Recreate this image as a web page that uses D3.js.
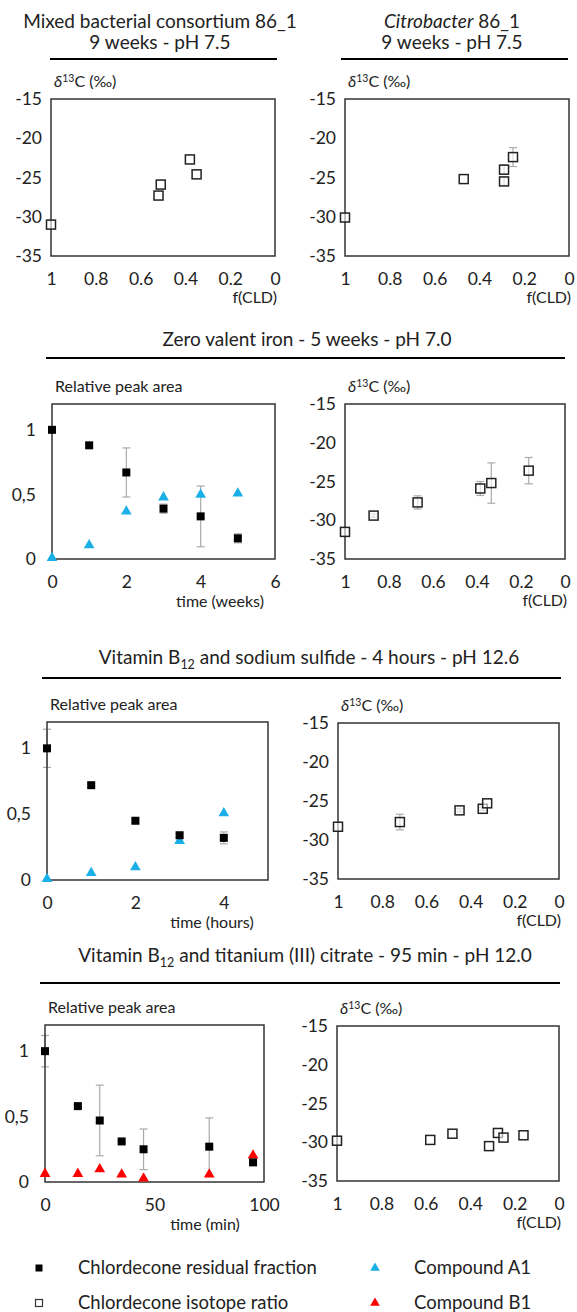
<!DOCTYPE html>
<html>
<head>
<meta charset="utf-8">
<script src="https://cdn.jsdelivr.net/npm/d3@7"></script>
<style>
  body { margin: 0; background: #fff; }
  text { font-family: Lato, "Open Sans", sans-serif; fill: #222; }
</style>
</head>
<body>
<svg id="fig" width="577" height="1312"></svg>
<script>
// ---- data ----
// mixed bacterial consortium 86_1 (isotope)
var mixF = [1, 0.52, 0.51, 0.38, 0.35];
var mixD = [-31.0, -27.3, -25.9, -22.7, -24.6];
var mixErr = [0, 0, 0, 0, 0];

// Citrobacter 86_1 (isotope)
var citF = [1, 0.47, 0.29, 0.29, 0.25];
var citD = [-30.1, -25.2, -24.0, -25.5, -22.4];
var citErr = [0, 0, 0.6, 0.5, 1.2];

// zero valent iron
var zviTime = [0, 1, 2, 3, 4, 5];
var zviCld = [1.0, 0.88, 0.67, 0.39, 0.33, 0.16];
var zviCldErr = [0.02, 0.02, 0.19, 0.035, 0.235, 0.035];
var zviA1 = [0, 0.10, 0.36, 0.47, 0.49, 0.50];
var zviF = [1, 0.87, 0.67, 0.385, 0.335, 0.165];
var zviD = [-31.5, -29.4, -27.7, -25.9, -25.2, -23.6];
var zviDErr = [0, 0.2, 0.85, 0.9, 2.6, 1.7];

// vitamin B12 + sodium sulfide
var sulTime = [0, 1, 2, 3, 4];
var sulCld = [1.0, 0.72, 0.45, 0.34, 0.32];
var sulCldErr = [0.145, 0.015, 0.015, 0.015, 0.045];
var sulA1 = [0, 0.046, 0.09, 0.29, 0.50];
var sulF = [1, 0.72, 0.45, 0.345, 0.325];
var sulD = [-28.3, -27.7, -26.2, -26.0, -25.3];
var sulDErr = [0, 1.0, 0.2, 0.2, 0];

// vitamin B12 + titanium (III) citrate
var tiTime = [0, 15, 25, 35, 45, 75, 95];
var tiCld = [1.0, 0.58, 0.47, 0.31, 0.25, 0.27, 0.15];
var tiCldErr = [0.12, 0.01, 0.27, 0.01, 0.155, 0.22, 0.01];
var tiB1 = [0.055, 0.055, 0.09, 0.05, 0.02, 0.05, 0.195];
var tiF = [1, 0.58, 0.48, 0.315, 0.275, 0.25, 0.16];
var tiD = [-29.8, -29.7, -28.9, -30.5, -28.8, -29.4, -29.1];
var tiDErr = [0, 0, 0, 0, 0, 0, 0];

var fTicks = [1, 0.8, 0.6, 0.4, 0.2, 0];
var dTicks = [-15, -20, -25, -30, -35];
var relTicks = [0, 0.5, 1];

var blue = "#1aafe6";
var red = "#ff0000";
var errColor = "#aaa";

var svg = d3.select("#fig");

// plain hyphen minus and comma decimals like the original
function plain(v){ return String(v); }
function comma(v){ return String(v).replace(".", ","); }

function styleTicks(a){
	a.select(".domain").remove();
	a.selectAll("text").attr("font-size", 17.5).attr("font-family", "Lato, sans-serif").attr("fill", "#222");
}

function frame(g, x, y){
	g.append("rect")
		.attr("x", x.range()[0])
		.attr("y", y.range()[1])
		.attr("width", x.range()[1] - x.range()[0])
		.attr("height", y.range()[0] - y.range()[1])
		.attr("fill", "none")
		.attr("stroke", "#333")
		.attr("stroke-width", 1.5);
}

function errorBars(g, xs, ys, errs, x, y){
	var data = xs.map(function(v, i){ return {x: v, y: ys[i], e: errs[i]}; })
		.filter(function(d){ return d.e > 0; });
	var eb = g.append("g").attr("stroke", errColor).attr("stroke-width", 1.2);
	eb.selectAll("line.v").data(data).enter().append("line")
		.attr("x1", function(d){ return x(d.x); })
		.attr("x2", function(d){ return x(d.x); })
		.attr("y1", function(d){ return y(d.y - d.e); })
		.attr("y2", function(d){ return y(d.y + d.e); });
	[-1, 1].forEach(function(s){
		eb.selectAll("line.c" + s).data(data).enter().append("line")
			.attr("x1", function(d){ return x(d.x) - 4; })
			.attr("x2", function(d){ return x(d.x) + 4; })
			.attr("y1", function(d){ return y(d.y + s * d.e); })
			.attr("y2", function(d){ return y(d.y + s * d.e); });
	});
}

function yTitle(g, x0, ytop, kind){
	var t = g.append("text").attr("x", x0 + 3).attr("y", ytop - 12).attr("font-size", 16);
	if (kind == "iso"){
		t.append("tspan").attr("font-style", "italic").text("δ");
		t.append("tspan").attr("font-size", 10.5).attr("dy", -5).text("13");
		t.append("tspan").attr("dy", 5).text("C (‰)");
	} else {
		t.text("Relative peak area");
	}
}

// isotope panel: delta13C vs f(CLD)
function drawIso(box, f, d, err){
	var g = svg.append("g");
	var x = d3.scaleLinear().domain([1, 0]).range([box.x0, box.x1]);
	var y = d3.scaleLinear().domain([-35, -15]).range([box.y1, box.y0]);

	g.append("g")
		.attr("transform", "translate(" + (box.x0 - 9) + ",0)")
		.call(d3.axisLeft(y).tickValues(dTicks).tickSize(0).tickPadding(0).tickFormat(plain))
		.call(styleTicks);

	g.append("g")
		.attr("transform", "translate(0," + (box.y1 + 17) + ")")
		.call(d3.axisBottom(x).tickValues(fTicks).tickSize(0).tickPadding(0).tickFormat(plain))
		.call(styleTicks);

	g.append("text")
		.attr("x", box.x1 + 2).attr("y", box.y1 + 47)
		.attr("text-anchor", "end").attr("font-size", 16)
		.text("f(CLD)");

	yTitle(g, box.x0, box.y0, "iso");
	errorBars(g, f, d, err, x, y);
	frame(g, x, y);

	g.selectAll("rect.pt").data(f).enter().append("rect")
		.attr("x", function(v){ return x(v) - 4.5; })
		.attr("y", function(v, i){ return y(d[i]) - 4.5; })
		.attr("width", 9).attr("height", 9)
		.attr("fill", "#fff").attr("fill-opacity", 0.6)
		.attr("stroke", "#222").attr("stroke-width", 1.5);
}

// relative peak area panel vs time
function drawRel(box, time, cld, cldErr, comp, compColor, xMax, xTicks, xLabel, labelX){
	var g = svg.append("g");
	var x = d3.scaleLinear().domain([0, xMax]).range([box.x0, box.x1]);
	var y = d3.scaleLinear().domain([0, 1.2]).range([box.y1, box.y0]);

	g.append("g")
		.attr("transform", "translate(" + (box.x0 - 16) + ",0)")
		.call(d3.axisLeft(y).tickValues(relTicks).tickSize(0).tickPadding(0).tickFormat(comma))
		.call(styleTicks);

	g.append("g")
		.attr("transform", "translate(0," + (box.y1 + 17) + ")")
		.call(d3.axisBottom(x).tickValues(xTicks).tickSize(0).tickPadding(0).tickFormat(plain))
		.call(styleTicks);

	g.append("text")
		.attr("x", labelX).attr("y", box.y1 + 48)
		.attr("text-anchor", "middle").attr("font-size", 16)
		.text(xLabel);

	yTitle(g, box.x0, box.y0, "rel");
	errorBars(g, time, cld, cldErr, x, y);
	frame(g, x, y);

	var tri = d3.symbol().type(d3.symbolTriangle).size(50);
	g.selectAll("path.tri").data(time).enter().append("path")
		.attr("d", tri)
		.attr("transform", function(t, i){ return "translate(" + x(t) + "," + (y(comp[i]) - 1) + ")"; })
		.attr("fill", compColor);

	g.selectAll("rect.pt").data(time).enter().append("rect")
		.attr("x", function(t){ return x(t) - 4; })
		.attr("y", function(t, i){ return y(cld[i]) - 4; })
		.attr("width", 8).attr("height", 8)
		.attr("fill", "#000");
}

function title(cx, y, parts){
	var t = svg.append("text").attr("x", cx).attr("y", y)
		.attr("text-anchor", "middle").attr("font-size", 19);
	parts.forEach(function(p){
		var s = t.append("tspan").text(p.t);
		if (p.i) s.attr("font-style", "italic");
		if (p.sub) s.attr("font-size", 12.5).attr("dy", 5);
		if (p.up) s.attr("dy", -5);
	});
}

function rule(x1, x2, y){
	svg.append("line").attr("x1", x1).attr("x2", x2).attr("y1", y).attr("y2", y)
		.attr("stroke", "#000").attr("stroke-width", 2.2);
}

// titles
title(160, 28, [{t: "Mixed bacterial consortium 86_1"}]);
title(160, 49, [{t: "9 weeks - pH 7.5"}]);
title(452, 28, [{t: "Citrobacter", i: true}, {t: " 86_1"}]);
title(452, 49, [{t: "9 weeks - pH 7.5"}]);
rule(50, 277, 59);
rule(341, 568, 59);

title(307, 346, [{t: "Zero valent iron - 5 weeks - pH 7.0"}]);
rule(46, 565, 358);

title(309, 664, [{t: "Vitamin B"}, {t: "12", sub: true}, {t: " and sodium sulfide - 4 hours - pH 12.6", up: true}]);
rule(42, 561, 678);

title(305, 962, [{t: "Vitamin B"}, {t: "12", sub: true}, {t: " and titanium (III) citrate - 95 min - pH 12.0", up: true}]);
rule(40, 560, 983);

// panels
drawIso({x0: 51, x1: 275, y0: 99, y1: 256}, mixF, mixD, mixErr);
drawIso({x0: 345, x1: 569, y0: 99, y1: 256}, citF, citD, citErr);

drawRel({x0: 52, x1: 275, y0: 404, y1: 559}, zviTime, zviCld, zviCldErr, zviA1, blue, 6, [0, 2, 4, 6], "time (weeks)", 220);
drawIso({x0: 345, x1: 565, y0: 404, y1: 559}, zviF, zviD, zviDErr);

drawRel({x0: 47, x1: 268, y0: 722, y1: 880}, sulTime, sulCld, sulCldErr, sulA1, blue, 5, [0, 2, 4], "time (hours)", 212);
drawIso({x0: 338, x1: 559, y0: 723, y1: 879}, sulF, sulD, sulDErr);

drawRel({x0: 45, x1: 264, y0: 1025, y1: 1182}, tiTime, tiCld, tiCldErr, tiB1, red, 100, [0, 50, 100], "time (min)", 205);
drawIso({x0: 337, x1: 559, y0: 1026, y1: 1181}, tiF, tiD, tiDErr);

// legend
var legendItems = ["Chlordecone residual fraction", "Chlordecone isotope ratio", "Compound A1", "Compound B1"];
var legendRows = [1268, 1303, 1268, 1303];
var legendCols = [39, 39, 375, 375];
var leg = svg.append("g");
legendItems.forEach(function(name, i){
	var cx = legendCols[i], cy = legendRows[i];
	if (i == 0){
		leg.append("rect").attr("x", cx - 3.5).attr("y", cy - 3.5).attr("width", 7).attr("height", 7).attr("fill", "#000");
	} else if (i == 1){
		leg.append("rect").attr("x", cx - 3.5).attr("y", cy - 3.5).attr("width", 7).attr("height", 7)
			.attr("fill", "#fff").attr("stroke", "#333").attr("stroke-width", 1.2);
	} else {
		leg.append("path").attr("d", d3.symbol().type(d3.symbolTriangle).size(40))
			.attr("transform", "translate(" + cx + "," + cy + ")")
			.attr("fill", i == 2 ? blue : red);
	}
	leg.append("text").attr("x", cx + 39).attr("y", cy + 6)
		.attr("font-size", 18.5).text(name);
});
</script>
</body>
</html>
